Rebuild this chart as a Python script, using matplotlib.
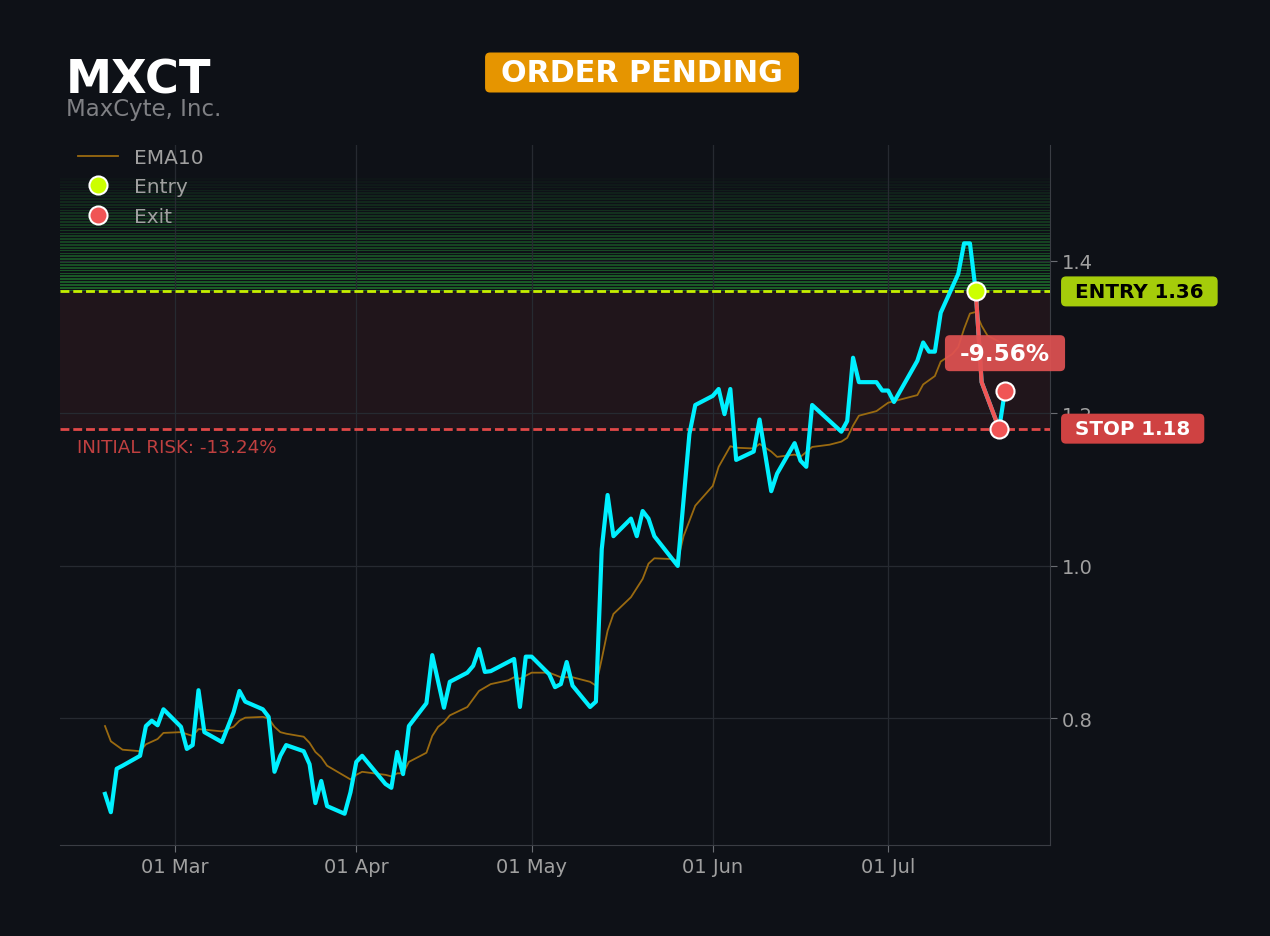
import matplotlib
matplotlib.use("Agg")
import matplotlib.pyplot as plt
import matplotlib.dates as mdates
from matplotlib.ticker import MultipleLocator, FormatStrFormatter
from matplotlib.patches import FancyBboxPatch
from matplotlib.transforms import IdentityTransform
import numpy as np
import pandas as pd

# ---- data ----
ticker = "MXCT"
company = "MaxCyte, Inc."
status = "ORDER PENDING"
year = "2024"

close_dates = [
    "02-18", "02-19", "02-20", "02-21", "02-24", "02-25", "02-26", "02-27", "02-28",
    "03-02", "03-03", "03-04", "03-05", "03-06", "03-09", "03-11", "03-12", "03-13",
    "03-16", "03-17", "03-18", "03-19", "03-20", "03-23", "03-24", "03-25", "03-26",
    "03-27", "03-30", "03-31", "04-01", "04-02", "04-06", "04-07", "04-08", "04-09",
    "04-10", "04-13", "04-14", "04-16", "04-17", "04-20", "04-21", "04-22", "04-23",
    "04-24", "04-28", "04-29", "04-30", "05-01", "05-04", "05-05", "05-06", "05-07",
    "05-08", "05-11", "05-12", "05-13", "05-14", "05-15", "05-18", "05-19", "05-20",
    "05-21", "05-22", "05-26", "05-28", "05-29", "06-01", "06-02", "06-03", "06-04",
    "06-05", "06-08", "06-09", "06-11", "06-12", "06-15", "06-16", "06-17", "06-18",
    "06-23", "06-24", "06-25", "06-26", "06-29", "06-30", "07-01", "07-02", "07-06",
    "07-07", "07-08", "07-09", "07-10", "07-13", "07-14", "07-15", "07-16", "07-17",
    "07-20", "07-21",
]
close_values = [
    0.701, 0.677, 0.734, 0.738, 0.751, 0.790, 0.797, 0.791, 0.812,
    0.789, 0.760, 0.765, 0.837, 0.782, 0.769, 0.808, 0.836, 0.822,
    0.812, 0.802, 0.730, 0.751, 0.765, 0.757, 0.740, 0.689, 0.718,
    0.685, 0.675, 0.703, 0.743, 0.751, 0.714, 0.709, 0.756, 0.727,
    0.790, 0.820, 0.883, 0.814, 0.848, 0.860, 0.869, 0.891, 0.861,
    0.862, 0.878, 0.815, 0.881, 0.881, 0.858, 0.841, 0.845, 0.874,
    0.843, 0.815, 0.822, 1.022, 1.093, 1.039, 1.062, 1.039, 1.072,
    1.062, 1.039, 1.000, 1.173, 1.211, 1.223, 1.232, 1.199, 1.232,
    1.139, 1.150, 1.192, 1.098, 1.121, 1.161, 1.138, 1.130, 1.211,
    1.176, 1.190, 1.273, 1.241, 1.241, 1.230, 1.230, 1.215, 1.269,
    1.293, 1.281, 1.281, 1.332, 1.383, 1.423, 1.423, 1.360, 1.241,
    1.180, 1.230,
]

ema_dates = [
    "02-18", "02-19", "02-21", "02-24", "02-25", "02-27", "02-28", "03-02", "03-04",
    "03-05", "03-09", "03-11", "03-12", "03-13", "03-16", "03-17", "03-18", "03-19",
    "03-20", "03-23", "03-24", "03-25", "03-26", "03-27", "03-31", "04-01", "04-02",
    "04-06", "04-07", "04-08", "04-09", "04-10", "04-13", "04-14", "04-15", "04-16",
    "04-17", "04-20", "04-22", "04-24", "04-27", "04-28", "04-29", "05-01", "05-04",
    "05-06", "05-08", "05-11", "05-12", "05-13", "05-14", "05-15", "05-18", "05-20",
    "05-21", "05-22", "05-25", "05-26", "05-27", "05-29", "06-01", "06-02", "06-04",
    "06-05", "06-08", "06-09", "06-11", "06-12", "06-15", "06-16", "06-18", "06-21",
    "06-23", "06-24", "06-25", "06-26", "06-29", "07-01", "07-06", "07-07", "07-09",
    "07-10", "07-12", "07-13", "07-14", "07-15", "07-16", "07-17", "07-18", "07-20",
    "07-21",
]
ema_values = [
    0.790, 0.770, 0.759, 0.757, 0.766, 0.773, 0.781, 0.782, 0.777,
    0.786, 0.783, 0.789, 0.797, 0.801, 0.802, 0.800, 0.789, 0.782,
    0.780, 0.776, 0.768, 0.756, 0.749, 0.738, 0.720, 0.726, 0.730,
    0.726, 0.724, 0.728, 0.728, 0.743, 0.755, 0.777, 0.789, 0.795,
    0.804, 0.815, 0.836, 0.845, 0.850, 0.854, 0.852, 0.860, 0.860,
    0.854, 0.854, 0.848, 0.843, 0.878, 0.915, 0.937, 0.959, 0.983,
    1.003, 1.010, 1.009, 1.007, 1.039, 1.079, 1.105, 1.130, 1.157,
    1.155, 1.154, 1.160, 1.150, 1.143, 1.146, 1.143, 1.156, 1.159,
    1.163, 1.168, 1.184, 1.197, 1.203, 1.214, 1.224, 1.238, 1.249,
    1.268, 1.278, 1.287, 1.311, 1.331, 1.333, 1.315, 1.302, 1.294,
    1.282,
]

entry_date = "07-16"
entry_price = 1.36
stop_price = 1.18
exit_dates = ["07-20", "07-21"]
exit_prices = [1.18, 1.23]
target_top = 1.51

# ---- colours ----
BG = "#0e1117"
CYAN = "#00f0ff"
EMA_COL = "#9a6a10"
ENTRY_COL = "#ccff00"
ENTRY_LINE = "#c6ee00"
EXIT_COL = "#f05555"
STOP_COL = "#e04848"
GRID = "#262a31"
TXT = "#a0a0a0"


def to_dt(days):
    return pd.to_datetime([f"{year}-{d}" for d in days])


close = pd.Series(close_values, index=to_dt(close_dates))
ema = pd.Series(ema_values, index=to_dt(ema_dates))
entry_dt = to_dt([entry_date])[0]
exit_dt = to_dt(exit_dates)
trade = close[(close.index >= entry_dt) & (close.index <= exit_dt[0])]
pct = (exit_prices[-1] - entry_price) / entry_price * 100
risk = (stop_price - entry_price) / entry_price * 100

fig = plt.figure(figsize=(12.7, 9.37), dpi=100, facecolor=BG)
ax = fig.add_axes([60 / 1270, 1 - 846 / 937, 990 / 1270, 700 / 937])
ax.set_facecolor(BG)

# zones
n_bands = 40
edges = np.linspace(entry_price, target_top, n_bands + 1)
for i in range(n_bands):
    h = edges[i + 1] - edges[i]
    fade = (1 - i / n_bands) ** 0.8
    ax.axhspan(edges[i], edges[i] + h * 0.6, color="#2ecc40",
               alpha=0.42 * fade, lw=0, zorder=0)
ax.axhspan(stop_price, entry_price, color=STOP_COL, alpha=0.09, lw=0, zorder=0)

ax.axhline(entry_price, color=ENTRY_LINE, lw=2, ls=(0, (3.2, 1.4)), zorder=3)
ax.axhline(stop_price, color=STOP_COL, lw=2, ls=(0, (3.2, 1.4)), zorder=3)

ema_line, = ax.plot(ema.index, ema.values, color=EMA_COL, lw=1.3, zorder=2, label="EMA10")
ax.plot(close.index, close.values, color=CYAN, lw=3, zorder=4)
ax.plot(trade.index, trade.values, color=EXIT_COL, lw=3, zorder=5)

entry_pt, = ax.plot([entry_dt], [entry_price], "o", ms=13, mfc=ENTRY_COL, mec="white",
                    mew=1.5, zorder=7, label="Entry")
exit_pt, = ax.plot(exit_dt, exit_prices, "o", ms=13, mfc=EXIT_COL, mec="white",
                   mew=1.5, zorder=7, label="Exit")

ax.set_ylim(0.634, 1.552)
ax.yaxis.set_major_locator(MultipleLocator(0.2))
ax.yaxis.set_major_formatter(FormatStrFormatter("%.1f"))
ax.xaxis.set_major_locator(mdates.MonthLocator())
ax.xaxis.set_major_formatter(mdates.DateFormatter("%d %b"))
ax.yaxis.tick_right()
ax.tick_params(colors="#6a6d73", labelcolor=TXT, labelsize=14, length=5)
ax.grid(True, color=GRID, lw=0.9)
ax.set_axisbelow(True)
for side in ["left", "top"]:
    ax.spines[side].set_visible(False)
for side in ["bottom", "right"]:
    ax.spines[side].set_color("#3a3d44")

leg = ax.legend(handles=[ema_line, entry_pt, exit_pt], loc="upper left",
                bbox_to_anchor=(0, 1.021), frameon=False, fontsize=14.5,
                labelcolor=TXT, numpoints=1, labelspacing=0.5, handletextpad=0.75)

# risk text
ax.annotate(f"INITIAL RISK: {risk:.2f}%", xy=(0.0172, stop_price),
            xycoords=ax.get_yaxis_transform(), xytext=(0, -13),
            textcoords="offset points", va="center", ha="left",
            color="#c04040", fontsize=13.2)

# labels on the right and on the plot
ytr = ax.get_yaxis_transform()
entry_txt = ax.text(1.0253, entry_price, f"ENTRY {entry_price:.2f}", transform=ytr,
                    ha="left", va="center", fontsize=14.3, fontweight="bold",
                    color="black", clip_on=False, zorder=11)
stop_txt = ax.text(1.0253, stop_price, f"STOP {stop_price:.2f}", transform=ytr,
                   ha="left", va="center", fontsize=14.3, fontweight="bold",
                   color="white", clip_on=False, zorder=11)
pct_txt = ax.text(exit_dt[-1], 1.279, f"{pct:.2f}%", ha="center", va="center",
                  fontsize=16.7, fontweight="bold", color="white", clip_on=False, zorder=11)

fig.text(66 / 1270, 1 - 94 / 937, ticker, fontsize=33.3, fontweight="bold",
         color="white", ha="left", va="baseline")
fig.text(66 / 1270, 1 - 116 / 937, company, fontsize=16.5, color="#7f8084",
         ha="left", va="baseline")
status_txt = fig.text(642 / 1270, 1 - 73.5 / 937, status, fontsize=21.7, fontweight="bold",
                      color="white", ha="center", va="center", zorder=5)

fig.canvas.draw()
renderer = fig.canvas.get_renderer()


def add_box(parent, txt, color, padx, pady, alpha=1.0):
    bb = txt.get_window_extent(renderer)
    box = FancyBboxPatch((bb.x0 - padx, bb.y0 - pady), bb.width + 2 * padx,
                         bb.height + 2 * pady, boxstyle="round,pad=0,rounding_size=5",
                         transform=IdentityTransform(), facecolor=color, edgecolor="none",
                         alpha=alpha, zorder=txt.get_zorder() - 1, clip_on=False)
    parent.add_artist(box)


add_box(ax, entry_txt, "#a5cc0a", 14, 5.5)
add_box(ax, stop_txt, "#cf4242", 14, 5.5)
add_box(ax, pct_txt, "#e05252", 15, 6.5, alpha=0.92)
add_box(fig, status_txt, "#e69500", 16, 5.5)

fig.savefig("out.png", dpi=100, facecolor=BG)
